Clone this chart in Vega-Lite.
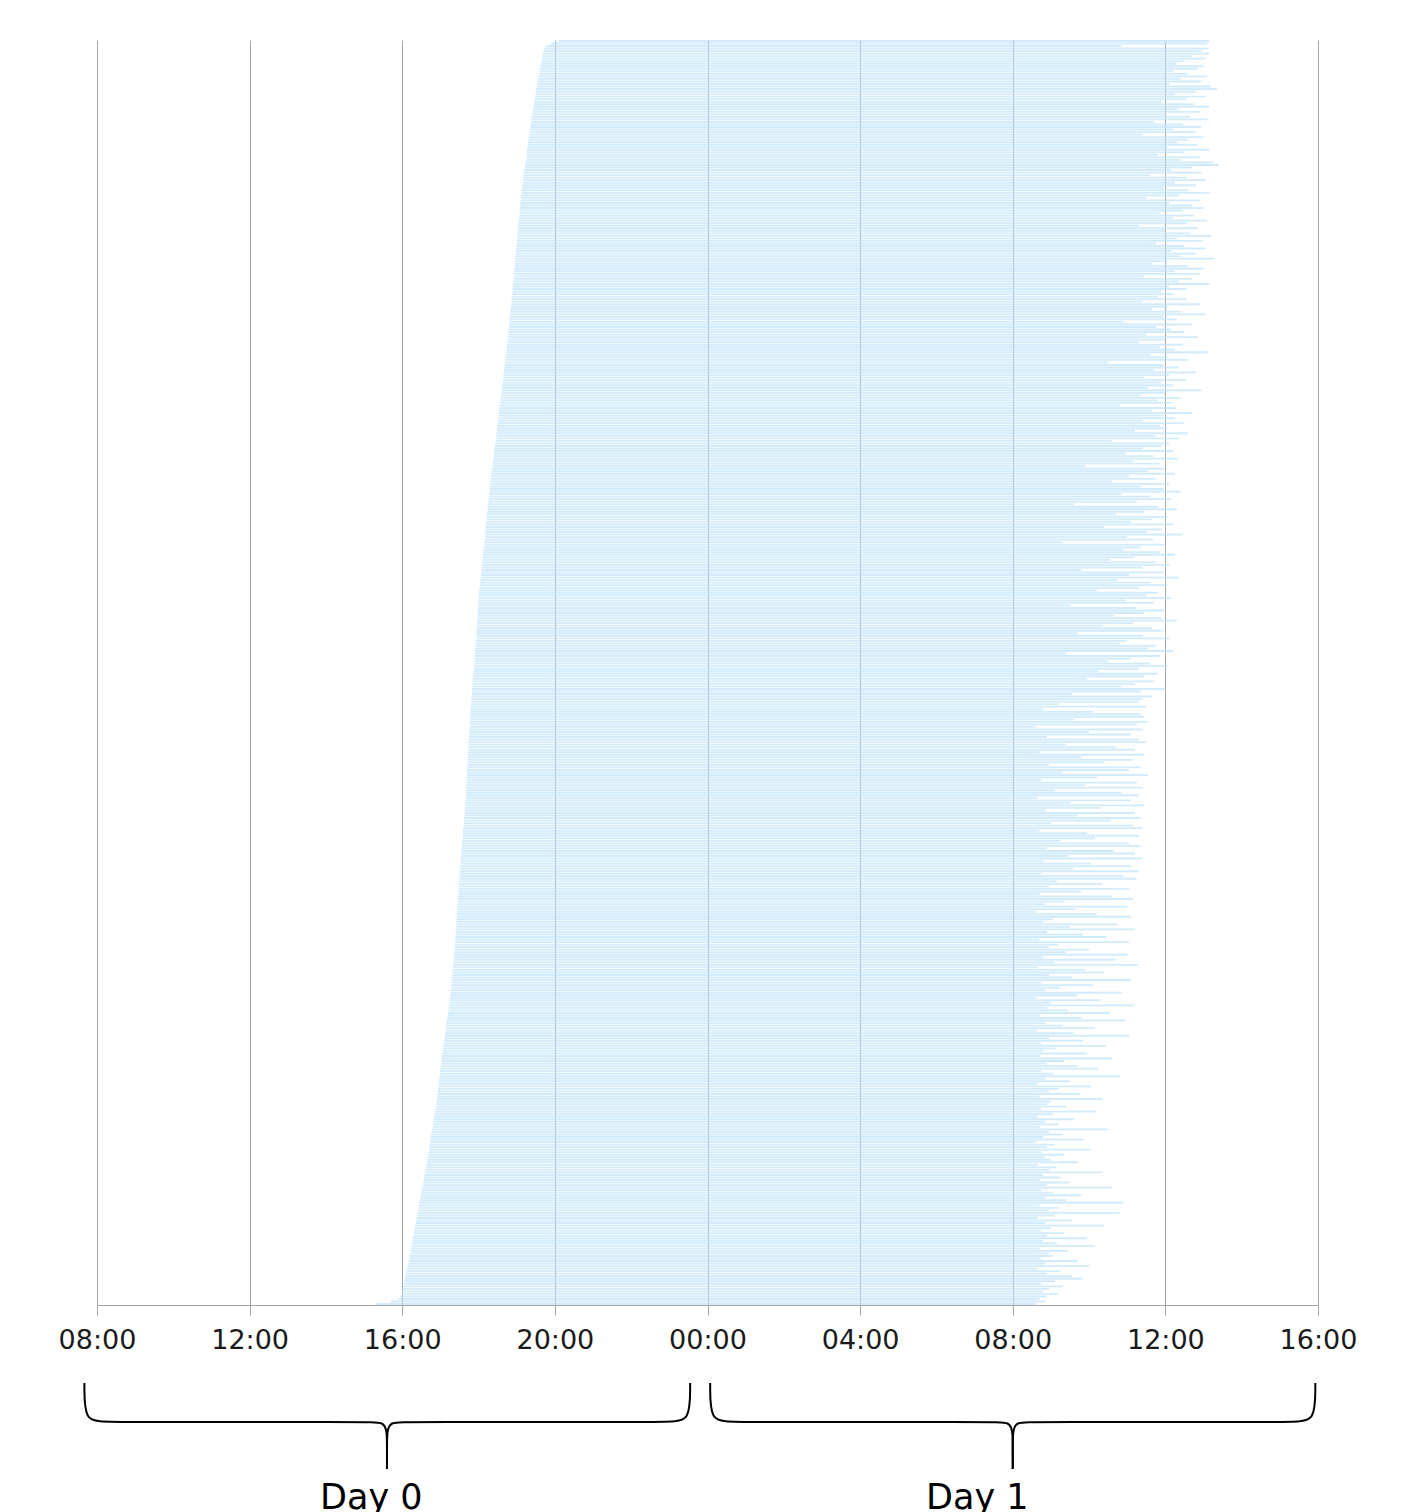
{
"$schema": "https://vega.github.io/schema/vega-lite/v6.json",
"padding": {"left": 58, "top": 40, "right": 0, "bottom": 0},
"background": "white",
"config": {"view": {"stroke": null}},
"spacing": 16,
"resolve": {"scale": {"x": "independent", "y": "independent"}},
"vconcat": [
{
"width": 1221,
"height": 1265,
"data": {"values": [
{"i":0,"s":20.10,"e":37.15},{"i":1,"s":19.90,"e":37.10},{"i":2,"s":19.78,"e":34.85},{"i":3,"s":19.72,"e":37.12},{"i":4,"s":19.70,"e":36.95},
{"i":5,"s":19.69,"e":37.15},{"i":6,"s":19.68,"e":36.70},{"i":7,"s":19.66,"e":37.05},{"i":8,"s":19.65,"e":36.50},{"i":9,"s":19.64,"e":36.30},
{"i":10,"s":19.63,"e":37.00},{"i":11,"s":19.61,"e":36.85},{"i":12,"s":19.60,"e":36.20},{"i":13,"s":19.59,"e":36.60},{"i":14,"s":19.58,"e":37.10},
{"i":15,"s":19.56,"e":36.40},{"i":16,"s":19.55,"e":36.95},{"i":17,"s":19.54,"e":36.10},{"i":18,"s":19.53,"e":37.20},{"i":19,"s":19.51,"e":37.35},
{"i":20,"s":19.50,"e":36.80},{"i":21,"s":19.49,"e":36.25},{"i":22,"s":19.48,"e":37.05},{"i":23,"s":19.47,"e":36.55},{"i":24,"s":19.46,"e":35.90},
{"i":25,"s":19.45,"e":36.75},{"i":26,"s":19.44,"e":37.15},{"i":27,"s":19.43,"e":36.35},{"i":28,"s":19.42,"e":36.90},{"i":29,"s":19.41,"e":36.00},
{"i":30,"s":19.40,"e":36.65},{"i":31,"s":19.39,"e":37.10},{"i":32,"s":19.38,"e":35.70},{"i":33,"s":19.37,"e":36.45},{"i":34,"s":19.36,"e":36.95},
{"i":35,"s":19.35,"e":36.20},{"i":36,"s":19.34,"e":36.80},{"i":37,"s":19.33,"e":35.40},{"i":38,"s":19.32,"e":37.00},{"i":39,"s":19.31,"e":36.60},
{"i":40,"s":19.30,"e":36.30},{"i":41,"s":19.29,"e":36.85},{"i":42,"s":19.28,"e":36.05},{"i":43,"s":19.27,"e":37.15},{"i":44,"s":19.26,"e":36.50},
{"i":45,"s":19.26,"e":35.80},{"i":46,"s":19.25,"e":36.90},{"i":47,"s":19.24,"e":36.40},{"i":48,"s":19.23,"e":37.25},{"i":49,"s":19.22,"e":37.40},
{"i":50,"s":19.21,"e":36.70},{"i":51,"s":19.20,"e":36.15},{"i":52,"s":19.19,"e":36.95},{"i":53,"s":19.18,"e":35.60},{"i":54,"s":19.17,"e":36.55},
{"i":55,"s":19.17,"e":37.05},{"i":56,"s":19.16,"e":36.25},{"i":57,"s":19.15,"e":36.80},{"i":58,"s":19.14,"e":35.95},{"i":59,"s":19.13,"e":36.60},
{"i":60,"s":19.12,"e":37.15},{"i":61,"s":19.11,"e":36.35},{"i":62,"s":19.11,"e":35.50},{"i":63,"s":19.10,"e":36.90},{"i":64,"s":19.10,"e":36.10},
{"i":65,"s":19.09,"e":36.70},{"i":66,"s":19.08,"e":37.00},{"i":67,"s":19.08,"e":36.45},{"i":68,"s":19.07,"e":35.85},{"i":69,"s":19.07,"e":36.75},
{"i":70,"s":19.06,"e":36.20},{"i":71,"s":19.05,"e":37.10},{"i":72,"s":19.05,"e":36.55},{"i":73,"s":19.04,"e":35.30},{"i":74,"s":19.04,"e":36.85},
{"i":75,"s":19.03,"e":36.00},{"i":76,"s":19.02,"e":36.65},{"i":77,"s":19.02,"e":37.20},{"i":78,"s":19.01,"e":36.30},{"i":79,"s":19.01,"e":36.95},
{"i":80,"s":19.00,"e":35.75},{"i":81,"s":18.99,"e":36.50},{"i":82,"s":18.99,"e":37.05},{"i":83,"s":18.98,"e":36.15},{"i":84,"s":18.98,"e":36.80},
{"i":85,"s":18.97,"e":36.40},{"i":86,"s":18.96,"e":37.30},{"i":87,"s":18.96,"e":36.05},{"i":88,"s":18.95,"e":35.65},{"i":89,"s":18.95,"e":36.60},
{"i":90,"s":18.94,"e":37.00},{"i":91,"s":18.93,"e":36.25},{"i":92,"s":18.93,"e":36.90},{"i":93,"s":18.92,"e":35.45},{"i":94,"s":18.92,"e":36.70},
{"i":95,"s":18.91,"e":36.35},{"i":96,"s":18.90,"e":37.15},{"i":97,"s":18.90,"e":36.10},{"i":98,"s":18.89,"e":36.55},{"i":99,"s":18.89,"e":35.90},
{"i":100,"s":18.88,"e":36.20},{"i":101,"s":18.87,"e":35.80},{"i":102,"s":18.87,"e":36.55},{"i":103,"s":18.86,"e":35.40},{"i":104,"s":18.85,"e":36.90},
{"i":105,"s":18.85,"e":36.05},{"i":106,"s":18.84,"e":35.65},{"i":107,"s":18.83,"e":36.40},{"i":108,"s":18.83,"e":37.05},{"i":109,"s":18.82,"e":35.95},
{"i":110,"s":18.81,"e":36.30},{"i":111,"s":18.81,"e":34.90},{"i":112,"s":18.80,"e":36.70},{"i":113,"s":18.80,"e":35.75},{"i":114,"s":18.79,"e":36.15},
{"i":115,"s":18.78,"e":36.50},{"i":116,"s":18.78,"e":35.50},{"i":117,"s":18.77,"e":36.85},{"i":118,"s":18.76,"e":36.00},{"i":119,"s":18.76,"e":35.30},
{"i":120,"s":18.75,"e":36.45},{"i":121,"s":18.74,"e":35.85},{"i":122,"s":18.73,"e":36.25},{"i":123,"s":18.73,"e":37.10},{"i":124,"s":18.72,"e":35.60},
{"i":125,"s":18.71,"e":36.05},{"i":126,"s":18.70,"e":36.60},{"i":127,"s":18.69,"e":34.50},{"i":128,"s":18.69,"e":35.95},{"i":129,"s":18.68,"e":36.35},
{"i":130,"s":18.67,"e":35.70},{"i":131,"s":18.66,"e":36.80},{"i":132,"s":18.65,"e":36.10},{"i":133,"s":18.65,"e":35.45},{"i":134,"s":18.64,"e":36.55},
{"i":135,"s":18.63,"e":35.90},{"i":136,"s":18.62,"e":36.20},{"i":137,"s":18.61,"e":35.55},{"i":138,"s":18.61,"e":36.95},{"i":139,"s":18.60,"e":36.00},
{"i":140,"s":18.59,"e":35.35},{"i":141,"s":18.58,"e":36.40},{"i":142,"s":18.57,"e":35.80},{"i":143,"s":18.57,"e":36.15},{"i":144,"s":18.56,"e":34.80},
{"i":145,"s":18.55,"e":36.30},{"i":146,"s":18.54,"e":35.65},{"i":147,"s":18.53,"e":36.70},{"i":148,"s":18.53,"e":35.95},{"i":149,"s":18.52,"e":36.25},
{"i":150,"s":18.51,"e":35.40},{"i":151,"s":18.50,"e":36.50},{"i":152,"s":18.49,"e":35.85},{"i":153,"s":18.49,"e":36.05},{"i":154,"s":18.48,"e":35.20},
{"i":155,"s":18.47,"e":36.60},{"i":156,"s":18.46,"e":35.75},{"i":157,"s":18.45,"e":36.35},{"i":158,"s":18.45,"e":34.60},{"i":159,"s":18.44,"e":36.10},
{"i":160,"s":18.43,"e":35.90},{"i":161,"s":18.42,"e":35.40},{"i":162,"s":18.41,"e":36.20},{"i":163,"s":18.41,"e":34.95},{"i":164,"s":18.40,"e":35.70},
{"i":165,"s":18.39,"e":36.35},{"i":166,"s":18.38,"e":35.15},{"i":167,"s":18.37,"e":35.85},{"i":168,"s":18.37,"e":33.90},{"i":169,"s":18.36,"e":36.00},
{"i":170,"s":18.35,"e":35.55},{"i":171,"s":18.34,"e":36.25},{"i":172,"s":18.33,"e":35.05},{"i":173,"s":18.33,"e":35.75},{"i":174,"s":18.32,"e":34.60},
{"i":175,"s":18.31,"e":36.10},{"i":176,"s":18.30,"e":35.35},{"i":177,"s":18.29,"e":35.95},{"i":178,"s":18.29,"e":36.40},{"i":179,"s":18.28,"e":34.85},
{"i":180,"s":18.27,"e":35.60},{"i":181,"s":18.26,"e":36.15},{"i":182,"s":18.26,"e":35.25},{"i":183,"s":18.25,"e":33.60},{"i":184,"s":18.24,"e":35.80},
{"i":185,"s":18.24,"e":36.30},{"i":186,"s":18.23,"e":35.45},{"i":187,"s":18.22,"e":34.70},{"i":188,"s":18.22,"e":36.05},{"i":189,"s":18.21,"e":35.65},
{"i":190,"s":18.20,"e":35.10},{"i":191,"s":18.20,"e":36.20},{"i":192,"s":18.19,"e":34.40},{"i":193,"s":18.19,"e":35.90},{"i":194,"s":18.18,"e":35.50},
{"i":195,"s":18.17,"e":36.45},{"i":196,"s":18.17,"e":35.00},{"i":197,"s":18.16,"e":35.70},{"i":198,"s":18.15,"e":33.30},{"i":199,"s":18.15,"e":36.00},
{"i":200,"s":18.14,"e":35.35},{"i":201,"s":18.13,"e":34.90},{"i":202,"s":18.13,"e":35.85},{"i":203,"s":18.12,"e":36.25},{"i":204,"s":18.11,"e":35.20},
{"i":205,"s":18.11,"e":34.55},{"i":206,"s":18.10,"e":35.75},{"i":207,"s":18.09,"e":36.10},{"i":208,"s":18.08,"e":35.40},{"i":209,"s":18.08,"e":33.80},
{"i":210,"s":18.07,"e":35.95},{"i":211,"s":18.06,"e":35.05},{"i":212,"s":18.06,"e":36.35},{"i":213,"s":18.05,"e":34.75},{"i":214,"s":18.04,"e":35.60},
{"i":215,"s":18.04,"e":36.05},{"i":216,"s":18.03,"e":35.30},{"i":217,"s":18.02,"e":34.20},{"i":218,"s":18.01,"e":35.80},{"i":219,"s":18.01,"e":35.50},
{"i":220,"s":18.00,"e":36.15},{"i":221,"s":18.00,"e":34.95},{"i":222,"s":17.99,"e":35.70},{"i":223,"s":17.99,"e":33.50},{"i":224,"s":17.98,"e":35.25},
{"i":225,"s":17.98,"e":36.00},{"i":226,"s":17.98,"e":35.45},{"i":227,"s":17.97,"e":34.65},{"i":228,"s":17.97,"e":35.90},{"i":229,"s":17.96,"e":36.30},
{"i":230,"s":17.96,"e":35.15},{"i":231,"s":17.96,"e":34.35},{"i":232,"s":17.95,"e":35.65},{"i":233,"s":17.95,"e":35.95},{"i":234,"s":17.94,"e":33.70},
{"i":235,"s":17.94,"e":35.40},{"i":236,"s":17.94,"e":36.10},{"i":237,"s":17.93,"e":35.00},{"i":238,"s":17.93,"e":34.80},{"i":239,"s":17.92,"e":35.75},
{"i":240,"s":17.92,"e":35.55},{"i":241,"s":17.91,"e":36.20},{"i":242,"s":17.91,"e":33.40},{"i":243,"s":17.90,"e":35.85},{"i":244,"s":17.90,"e":35.10},
{"i":245,"s":17.89,"e":34.50},{"i":246,"s":17.89,"e":35.60},{"i":247,"s":17.88,"e":36.05},{"i":248,"s":17.88,"e":35.30},{"i":249,"s":17.87,"e":34.25},
{"i":250,"s":17.87,"e":35.80},{"i":251,"s":17.86,"e":35.45},{"i":252,"s":17.85,"e":33.95},{"i":253,"s":17.85,"e":35.70},{"i":254,"s":17.84,"e":35.20},
{"i":255,"s":17.84,"e":34.85},{"i":256,"s":17.83,"e":36.00},{"i":257,"s":17.83,"e":35.35},{"i":258,"s":17.82,"e":33.55},{"i":259,"s":17.82,"e":35.65},
{"i":260,"s":17.81,"e":35.40},{"i":261,"s":17.81,"e":35.30},{"i":262,"s":17.80,"e":33.20},{"i":263,"s":17.80,"e":35.50},{"i":264,"s":17.79,"e":32.80},
{"i":265,"s":17.79,"e":34.10},{"i":266,"s":17.79,"e":35.35},{"i":267,"s":17.78,"e":35.45},{"i":268,"s":17.78,"e":33.60},{"i":269,"s":17.77,"e":35.55},
{"i":270,"s":17.77,"e":35.25},{"i":271,"s":17.77,"e":32.60},{"i":272,"s":17.76,"e":35.40},{"i":273,"s":17.76,"e":34.00},{"i":274,"s":17.75,"e":35.10},
{"i":275,"s":17.75,"e":32.90},{"i":276,"s":17.75,"e":35.30},{"i":277,"s":17.74,"e":35.50},{"i":278,"s":17.74,"e":33.40},{"i":279,"s":17.73,"e":34.70},
{"i":280,"s":17.73,"e":35.20},{"i":281,"s":17.73,"e":32.70},{"i":282,"s":17.72,"e":35.45},{"i":283,"s":17.72,"e":33.80},{"i":284,"s":17.72,"e":35.15},
{"i":285,"s":17.71,"e":34.40},{"i":286,"s":17.71,"e":32.95},{"i":287,"s":17.71,"e":35.35},{"i":288,"s":17.70,"e":35.05},{"i":289,"s":17.70,"e":33.30},
{"i":290,"s":17.70,"e":35.55},{"i":291,"s":17.69,"e":34.20},{"i":292,"s":17.69,"e":32.75},{"i":293,"s":17.68,"e":35.25},{"i":294,"s":17.68,"e":33.90},
{"i":295,"s":17.68,"e":35.40},{"i":296,"s":17.67,"e":33.10},{"i":297,"s":17.67,"e":34.85},{"i":298,"s":17.67,"e":35.30},{"i":299,"s":17.66,"e":32.65},
{"i":300,"s":17.66,"e":35.10},{"i":301,"s":17.65,"e":33.50},{"i":302,"s":17.65,"e":35.45},{"i":303,"s":17.64,"e":34.30},{"i":304,"s":17.64,"e":32.85},
{"i":305,"s":17.63,"e":35.20},{"i":306,"s":17.63,"e":33.70},{"i":307,"s":17.62,"e":35.35},{"i":308,"s":17.62,"e":34.55},{"i":309,"s":17.61,"e":33.00},
{"i":310,"s":17.61,"e":35.15},{"i":311,"s":17.60,"e":35.40},{"i":312,"s":17.59,"e":32.70},{"i":313,"s":17.59,"e":33.95},{"i":314,"s":17.58,"e":35.30},
{"i":315,"s":17.58,"e":34.15},{"i":316,"s":17.57,"e":33.25},{"i":317,"s":17.57,"e":35.05},{"i":318,"s":17.56,"e":35.35},{"i":319,"s":17.56,"e":32.90},
{"i":320,"s":17.55,"e":34.65},{"i":321,"s":17.55,"e":35.20},{"i":322,"s":17.54,"e":33.45},{"i":323,"s":17.54,"e":35.40},{"i":324,"s":17.53,"e":32.80},
{"i":325,"s":17.53,"e":34.05},{"i":326,"s":17.52,"e":35.10},{"i":327,"s":17.52,"e":33.60},{"i":328,"s":17.51,"e":35.30},{"i":329,"s":17.51,"e":32.75},
{"i":330,"s":17.50,"e":34.90},{"i":331,"s":17.50,"e":35.25},{"i":332,"s":17.49,"e":33.15},{"i":333,"s":17.49,"e":34.35},{"i":334,"s":17.48,"e":32.95},
{"i":335,"s":17.48,"e":35.05},{"i":336,"s":17.47,"e":33.80},{"i":337,"s":17.47,"e":32.70},{"i":338,"s":17.46,"e":34.60},{"i":339,"s":17.46,"e":35.15},
{"i":340,"s":17.45,"e":33.35},{"i":341,"s":17.45,"e":32.85},{"i":342,"s":17.44,"e":35.00},{"i":343,"s":17.44,"e":33.65},{"i":344,"s":17.43,"e":32.60},
{"i":345,"s":17.43,"e":34.20},{"i":346,"s":17.43,"e":35.10},{"i":347,"s":17.42,"e":33.05},{"i":348,"s":17.42,"e":32.80},{"i":349,"s":17.41,"e":34.75},
{"i":350,"s":17.41,"e":33.50},{"i":351,"s":17.41,"e":35.20},{"i":352,"s":17.40,"e":32.90},{"i":353,"s":17.40,"e":33.85},{"i":354,"s":17.39,"e":34.45},
{"i":355,"s":17.39,"e":32.70},{"i":356,"s":17.39,"e":35.05},{"i":357,"s":17.38,"e":33.20},{"i":358,"s":17.38,"e":32.95},{"i":359,"s":17.37,"e":34.00},
{"i":360,"s":17.37,"e":33.40},{"i":361,"s":17.36,"e":35.00},{"i":362,"s":17.36,"e":32.80},{"i":363,"s":17.35,"e":34.70},{"i":364,"s":17.34,"e":33.10},
{"i":365,"s":17.34,"e":35.30},{"i":366,"s":17.33,"e":32.65},{"i":367,"s":17.32,"e":33.90},{"i":368,"s":17.32,"e":34.40},{"i":369,"s":17.31,"e":32.95},
{"i":370,"s":17.30,"e":33.55},{"i":371,"s":17.30,"e":35.10},{"i":372,"s":17.29,"e":32.75},{"i":373,"s":17.29,"e":34.10},{"i":374,"s":17.28,"e":33.25},
{"i":375,"s":17.27,"e":32.85},{"i":376,"s":17.27,"e":34.85},{"i":377,"s":17.26,"e":33.70},{"i":378,"s":17.25,"e":32.60},{"i":379,"s":17.25,"e":34.30},
{"i":380,"s":17.24,"e":33.00},{"i":381,"s":17.23,"e":35.20},{"i":382,"s":17.22,"e":32.90},{"i":383,"s":17.21,"e":33.45},{"i":384,"s":17.20,"e":34.55},
{"i":385,"s":17.19,"e":32.70},{"i":386,"s":17.18,"e":33.80},{"i":387,"s":17.17,"e":34.95},{"i":388,"s":17.16,"e":32.85},{"i":389,"s":17.15,"e":33.30},
{"i":390,"s":17.15,"e":34.15},{"i":391,"s":17.14,"e":32.65},{"i":392,"s":17.13,"e":33.60},{"i":393,"s":17.12,"e":35.05},{"i":394,"s":17.11,"e":32.95},
{"i":395,"s":17.10,"e":33.85},{"i":396,"s":17.09,"e":32.75},{"i":397,"s":17.08,"e":34.45},{"i":398,"s":17.07,"e":33.15},{"i":399,"s":17.06,"e":32.80},
{"i":400,"s":17.05,"e":33.95},{"i":401,"s":17.04,"e":32.70},{"i":402,"s":17.03,"e":34.60},{"i":403,"s":17.03,"e":33.35},{"i":404,"s":17.02,"e":32.90},
{"i":405,"s":17.01,"e":33.70},{"i":406,"s":17.00,"e":34.25},{"i":407,"s":16.99,"e":32.75},{"i":408,"s":16.99,"e":33.05},{"i":409,"s":16.98,"e":34.80},
{"i":410,"s":16.97,"e":32.85},{"i":411,"s":16.96,"e":33.50},{"i":412,"s":16.95,"e":32.65},{"i":413,"s":16.95,"e":34.05},{"i":414,"s":16.94,"e":33.20},
{"i":415,"s":16.93,"e":32.95},{"i":416,"s":16.92,"e":33.75},{"i":417,"s":16.91,"e":32.70},{"i":418,"s":16.91,"e":34.35},{"i":419,"s":16.90,"e":33.00},
{"i":420,"s":16.89,"e":32.90},{"i":421,"s":16.88,"e":33.40},{"i":422,"s":16.87,"e":32.75},{"i":423,"s":16.86,"e":34.20},{"i":424,"s":16.85,"e":33.05},
{"i":425,"s":16.84,"e":32.65},{"i":426,"s":16.83,"e":33.60},{"i":427,"s":16.82,"e":32.85},{"i":428,"s":16.81,"e":33.20},{"i":429,"s":16.80,"e":32.70},
{"i":430,"s":16.79,"e":34.50},{"i":431,"s":16.77,"e":32.95},{"i":432,"s":16.76,"e":33.30},{"i":433,"s":16.75,"e":32.80},{"i":434,"s":16.74,"e":33.85},
{"i":435,"s":16.73,"e":32.60},{"i":436,"s":16.72,"e":33.10},{"i":437,"s":16.71,"e":32.90},{"i":438,"s":16.70,"e":34.05},{"i":439,"s":16.69,"e":32.75},
{"i":440,"s":16.68,"e":33.35},{"i":441,"s":16.67,"e":32.85},{"i":442,"s":16.66,"e":33.00},{"i":443,"s":16.64,"e":33.70},{"i":444,"s":16.63,"e":32.65},
{"i":445,"s":16.62,"e":33.15},{"i":446,"s":16.61,"e":32.95},{"i":447,"s":16.60,"e":34.35},{"i":448,"s":16.58,"e":32.80},{"i":449,"s":16.57,"e":33.25},
{"i":450,"s":16.56,"e":32.70},{"i":451,"s":16.55,"e":33.50},{"i":452,"s":16.54,"e":32.90},{"i":453,"s":16.52,"e":34.60},{"i":454,"s":16.51,"e":32.75},
{"i":455,"s":16.50,"e":33.05},{"i":456,"s":16.49,"e":33.80},{"i":457,"s":16.48,"e":32.85},{"i":458,"s":16.46,"e":33.40},{"i":459,"s":16.45,"e":34.90},
{"i":460,"s":16.44,"e":32.70},{"i":461,"s":16.43,"e":33.20},{"i":462,"s":16.42,"e":32.95},{"i":463,"s":16.40,"e":34.80},{"i":464,"s":16.39,"e":33.10},
{"i":465,"s":16.38,"e":32.65},{"i":466,"s":16.37,"e":33.55},{"i":467,"s":16.36,"e":32.85},{"i":468,"s":16.34,"e":34.40},{"i":469,"s":16.33,"e":33.00},
{"i":470,"s":16.32,"e":32.75},{"i":471,"s":16.31,"e":33.35},{"i":472,"s":16.30,"e":32.90},{"i":473,"s":16.28,"e":33.95},{"i":474,"s":16.27,"e":32.80},
{"i":475,"s":16.26,"e":33.15},{"i":476,"s":16.25,"e":34.15},{"i":477,"s":16.24,"e":32.70},{"i":478,"s":16.22,"e":33.45},{"i":479,"s":16.21,"e":32.95},
{"i":480,"s":16.20,"e":33.05},{"i":481,"s":16.19,"e":32.75},{"i":482,"s":16.17,"e":33.70},{"i":483,"s":16.16,"e":32.85},{"i":484,"s":16.14,"e":34.00},
{"i":485,"s":16.13,"e":32.65},{"i":486,"s":16.11,"e":33.25},{"i":487,"s":16.10,"e":32.90},{"i":488,"s":16.08,"e":33.55},{"i":489,"s":16.07,"e":33.85},
{"i":490,"s":16.05,"e":33.10},{"i":491,"s":16.04,"e":32.75},{"i":492,"s":16.02,"e":33.30},{"i":493,"s":16.01,"e":32.95},{"i":494,"s":15.99,"e":32.80},
{"i":495,"s":15.98,"e":33.20},{"i":496,"s":15.95,"e":32.90},{"i":497,"s":15.90,"e":32.70},{"i":498,"s":15.70,"e":32.85},{"i":499,"s":15.30,"e":32.60}
]},
"mark": {"type": "bar", "color": "#c2e4fb", "opacity": 0.75},
"encoding": {
"y": {"field": "i", "type": "ordinal", "axis": null, "sort": "ascending", "scale": {"paddingInner": 0.25, "paddingOuter": 0}},
"x": {"field": "s", "type": "quantitative", "scale": {"domain": [8, 40], "nice": false, "zero": false},
"axis": {"title": null, "values": [8, 12, 16, 20, 24, 28, 32, 36, 40],
"labelExpr": "(datum.value % 24 < 10 ? '0' : '') + (datum.value % 24) + ':00'",
"grid": true, "gridColor": "#a6a6a6", "gridWidth": 1, "domainColor": "#a6a6a6", "tickColor": "#a6a6a6",
"tickSize": 10, "labelFont": "DejaVu Sans", "labelFontSize": 27, "labelColor": "#1a1a1a", "labelPadding": 12, "labelFlush": false, "labelOverlap": false}},
"x2": {"field": "e"}
}
},
{
"width": 1221,
"height": 150,
"layer": [
{
"data": {"values": [
{"b":"d0l","o":1,"x":7.67,"y":14},{"b":"d0l","o":2,"x":7.67,"y":53},{"b":"d0l","o":3,"x":8.2,"y":53},{"b":"d0l","o":4,"x":15.1,"y":53},{"b":"d0l","o":5,"x":15.52,"y":53},{"b":"d0l","o":6,"x":15.6,"y":62},{"b":"d0l","o":7,"x":15.6,"y":82},{"b":"d0l","o":8,"x":15.6,"y":100},
{"b":"d0r","o":1,"x":23.545,"y":14},{"b":"d0r","o":2,"x":23.545,"y":53},{"b":"d0r","o":3,"x":23.02,"y":53},{"b":"d0r","o":4,"x":16.1,"y":53},{"b":"d0r","o":5,"x":15.68,"y":53},{"b":"d0r","o":6,"x":15.6,"y":62},{"b":"d0r","o":7,"x":15.6,"y":82},{"b":"d0r","o":8,"x":15.6,"y":100},
{"b":"d1l","o":1,"x":24.07,"y":14},{"b":"d1l","o":2,"x":24.07,"y":53},{"b":"d1l","o":3,"x":24.6,"y":53},{"b":"d1l","o":4,"x":31.5,"y":53},{"b":"d1l","o":5,"x":31.92,"y":53},{"b":"d1l","o":6,"x":32.0,"y":62},{"b":"d1l","o":7,"x":32.0,"y":82},{"b":"d1l","o":8,"x":32.0,"y":100},
{"b":"d1r","o":1,"x":39.93,"y":14},{"b":"d1r","o":2,"x":39.93,"y":53},{"b":"d1r","o":3,"x":39.4,"y":53},{"b":"d1r","o":4,"x":32.5,"y":53},{"b":"d1r","o":5,"x":32.08,"y":53},{"b":"d1r","o":6,"x":32.0,"y":62},{"b":"d1r","o":7,"x":32.0,"y":82},{"b":"d1r","o":8,"x":32.0,"y":100}
]},
"mark": {"type": "line", "interpolate": "basis", "color": "black", "strokeWidth": 2},
"encoding": {
"x": {"field": "x", "type": "quantitative", "scale": {"domain": [8, 40], "nice": false, "zero": false}, "axis": null},
"y": {"field": "y", "type": "quantitative", "scale": {"domain": [0, 150], "reverse": true, "nice": false, "zero": false}, "axis": null},
"detail": {"field": "b"},
"order": {"field": "o"}
}
},
{
"data": {"values": [{"t": "Day 0", "x": 15.19, "y": 140}, {"t": "Day 1", "x": 31.07, "y": 140}]},
"mark": {"type": "text", "font": "DejaVu Sans", "fontSize": 35, "align": "center", "baseline": "alphabetic", "color": "black"},
"encoding": {
"x": {"field": "x", "type": "quantitative", "scale": {"domain": [8, 40], "nice": false, "zero": false}, "axis": null},
"y": {"field": "y", "type": "quantitative", "scale": {"domain": [0, 150], "reverse": true, "nice": false, "zero": false}, "axis": null},
"text": {"field": "t"}
}
}
]
}
]
}
